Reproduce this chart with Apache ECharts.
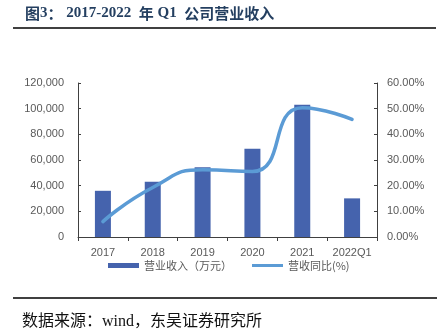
<!DOCTYPE html>
<html>
<head>
<meta charset="utf-8">
<script src="https://cdn.jsdelivr.net/npm/echarts@6/dist/echarts.min.js"></script>
<style>
html,body{margin:0;padding:0;background:#fff;}
#c{width:447px;height:334px;}
</style>
</head>
<body>
<div id="c"></div>
<script>
var categories = ['2017', '2018', '2019', '2020', '2021', '2022Q1'];
var revenue = [36000, 43000, 54300, 68700, 103000, 30100];
var growth = [6.0, 19.3, 26.2, 25.5, 50.4, 45.8];
var leftTicks = [0, 20000, 40000, 60000, 80000, 100000, 120000];
var rightTicks = [0, 10, 20, 30, 40, 50, 60];

var chart = echarts.init(document.getElementById('c'), null, {renderer: 'canvas'});
var axisColor = '#404040';
var labelColor = '#595959';
var numFont = '"Liberation Sans", Arial, sans-serif';
var cjkFont = '"Noto Sans CJK SC", sans-serif';

chart.setOption({
  animation: false,
  backgroundColor: '#fff',
  title: {
    left: 20, top: 1,
    text: '{c|图}{n|3}{c|：}{n| 2017-2022  }{c|年}{n| Q1  }{c|公司营业收入}',
    textStyle: {
      rich: {
        c: {fontFamily: cjkFont, fontWeight: 'bold', fontSize: 15, color: '#243F60'},
        n: {fontFamily: '"Liberation Serif", serif', fontWeight: 'bold', fontSize: 15, color: '#243F60'}
      }
    }
  },
  graphic: [
    {type: 'line', shape: {x1: 13, y1: 28, x2: 436, y2: 28}, style: {stroke: '#000', lineWidth: 1.5}},
    {type: 'line', shape: {x1: 13, y1: 298, x2: 437, y2: 298}, style: {stroke: '#000', lineWidth: 1.5}},
    {type: 'text', left: 22, top: 314, style: {text: '数据来源：wind，东吴证券研究所', font: '16px "Liberation Serif", "Noto Sans CJK SC", serif', fill: '#111'}}
  ],
  legend: {
    left: 108, top: 260, padding: 0,
    itemWidth: 31, itemHeight: 5, itemGap: 20,
    textStyle: {fontFamily: cjkFont, fontSize: 11, color: labelColor},
    data: [
      {name: '营业收入（万元）', icon: 'rect'},
      {name: '营收同比(%)', icon: 'path://M0,0M0,1L31,1L31,4L0,4ZM31,5'}
    ]
  },
  grid: {left: 78, right: 70, top: 83, bottom: 97},
  xAxis: {
    type: 'category',
    data: categories,
    axisLine: {lineStyle: {color: axisColor, width: 1}},
    axisTick: {show: true, length: 4, lineStyle: {color: axisColor}},
    axisLabel: {interval: 0, color: labelColor, fontFamily: numFont, fontSize: 11, margin: 10}
  },
  yAxis: [
    {
      type: 'value', min: leftTicks[0], max: leftTicks[leftTicks.length - 1], interval: 20000,
      splitLine: {show: false},
      axisLine: {show: true, lineStyle: {color: axisColor}},
      axisTick: {show: true, inside: true, length: 3, lineStyle: {color: axisColor}},
      axisLabel: {color: labelColor, fontFamily: numFont, fontSize: 11, margin: 14,
        formatter: function (v) { return v.toLocaleString('en-US'); }}
    },
    {
      type: 'value', min: rightTicks[0], max: rightTicks[rightTicks.length - 1], interval: 10,
      splitLine: {show: false},
      axisLine: {show: true, lineStyle: {color: axisColor}},
      axisTick: {show: true, inside: true, length: 3, lineStyle: {color: axisColor}},
      axisLabel: {color: labelColor, fontFamily: numFont, fontSize: 11, margin: 10,
        formatter: function (v) { return v.toFixed(2) + '%'; }}
    }
  ],
  series: [
    {
      name: '营业收入（万元）', type: 'bar', data: revenue, barWidth: 16,
      itemStyle: {color: '#4563AD'}
    },
    {
      name: '营收同比(%)', type: 'line', yAxisIndex: 1, data: growth, smooth: 0.55,
      symbol: 'none', lineStyle: {color: '#5B9BD5', width: 3.5, cap: 'round'},
      itemStyle: {color: '#5B9BD5'}
    }
  ]
});
</script>
</body>
</html>
